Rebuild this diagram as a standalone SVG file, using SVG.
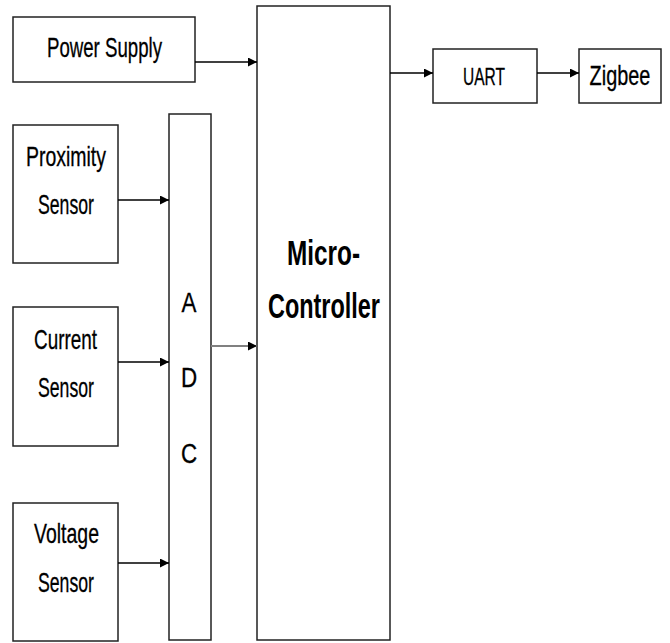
<svg xmlns="http://www.w3.org/2000/svg" width="670" height="643" viewBox="0 0 670 643">
<style>
.box{fill:#fff;stroke:#222;stroke-width:1.5}
.t{font-family:"Liberation Sans",Arial,sans-serif;font-size:28px;fill:#000;stroke:#000;stroke-width:0.3}
.s{font-size:23px}
.b{font-family:"Liberation Sans",Arial,sans-serif;font-weight:bold;font-size:35px;fill:#000}
.c{stroke:#000;stroke-width:1.5;fill:none}
.g{stroke:#808080;stroke-width:2.2;fill:none}
</style>
<defs>
<marker id="ah" viewBox="0 0 10 10" refX="10" refY="5" markerWidth="9" markerHeight="9" markerUnits="userSpaceOnUse" orient="auto">
<path d="M0,0 L10,5 L0,10 z" fill="#000"/>
</marker>
</defs>
<rect width="670" height="643" fill="#fff"/>
<g id="power">
<rect class="box" x="13" y="17" width="182" height="65"/>
<text class="t" x="47" y="57" textLength="115" lengthAdjust="spacingAndGlyphs">Power Supply</text>
</g>
<g id="micro">
<rect class="box" x="257" y="6" width="133" height="634"/>
<text class="b" x="287" y="265" textLength="73" lengthAdjust="spacingAndGlyphs">Micro-</text>
<text class="b" x="268" y="318" textLength="112" lengthAdjust="spacingAndGlyphs">Controller</text>
</g>
<g id="adc">
<rect class="box" x="169" y="114" width="42" height="526"/>
<text class="t" x="189" y="312" text-anchor="middle" font-size="32" transform="translate(189 0) scale(0.8 1) translate(-189 0)">A</text>
<text class="t" x="189" y="387" text-anchor="middle" font-size="32" transform="translate(189 0) scale(0.8 1) translate(-189 0)">D</text>
<text class="t" x="189" y="463" text-anchor="middle" font-size="32" transform="translate(189 0) scale(0.8 1) translate(-189 0)">C</text>
</g>
<g id="proximity">
<rect class="box" x="13" y="125" width="105" height="138"/>
<text class="t" x="26" y="166" textLength="80" lengthAdjust="spacingAndGlyphs">Proximity</text>
<text class="t" x="38" y="214" textLength="56" lengthAdjust="spacingAndGlyphs">Sensor</text>
</g>
<g id="current">
<rect class="box" x="13" y="307" width="105" height="139"/>
<text class="t" x="34" y="349" textLength="63" lengthAdjust="spacingAndGlyphs">Current</text>
<text class="t" x="38" y="397" textLength="56" lengthAdjust="spacingAndGlyphs">Sensor</text>
</g>
<g id="voltage">
<rect class="box" x="13" y="503" width="105" height="138"/>
<text class="t" x="34" y="543" textLength="65" lengthAdjust="spacingAndGlyphs">Voltage</text>
<text class="t" x="38" y="592" textLength="56" lengthAdjust="spacingAndGlyphs">Sensor</text>
</g>
<g id="uart">
<rect class="box" x="433" y="49" width="104" height="54"/>
<text class="t s" x="463" y="85" textLength="42" lengthAdjust="spacingAndGlyphs">UART</text>
</g>
<g id="zigbee">
<rect class="box" x="579" y="49" width="82" height="54"/>
<text class="t" x="620" y="85" font-size="25" text-anchor="middle" transform="translate(620 0) scale(0.71 1) translate(-620 0)">Zigbee</text>
</g>
<g id="connectors">
<line class="c" x1="195" y1="62" x2="257" y2="62" marker-end="url(#ah)"/>
<line class="c" x1="118" y1="200" x2="169" y2="200" marker-end="url(#ah)"/>
<line class="c" x1="118" y1="362" x2="169" y2="362" marker-end="url(#ah)"/>
<line class="c" x1="118" y1="563" x2="169" y2="563" marker-end="url(#ah)"/>
<line class="g" x1="211" y1="346" x2="257" y2="346" marker-end="url(#ah)"/>
<line class="c" x1="390" y1="73" x2="433" y2="73" marker-end="url(#ah)"/>
<line class="c" x1="537" y1="73" x2="579" y2="73" marker-end="url(#ah)"/>
</g>
</svg>
